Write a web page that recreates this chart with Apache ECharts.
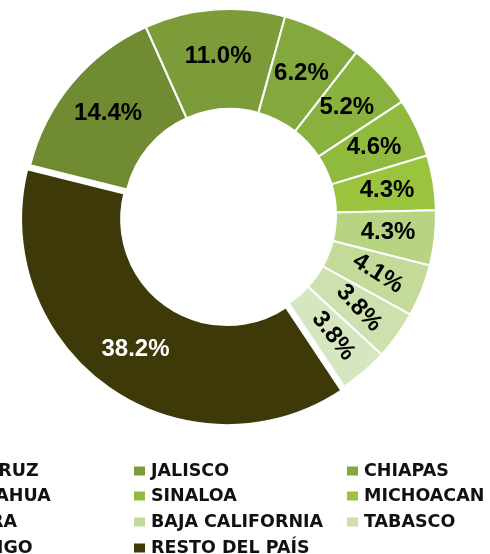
<!DOCTYPE html>
<html><head><meta charset="utf-8">
<script src="https://cdn.jsdelivr.net/npm/echarts@6/dist/echarts.min.js"></script>
<style>html,body{margin:0;padding:0;background:#fff}#c{width:490px;height:554px}</style>
</head><body><div id="c"></div>
<script>
const categories = ['VERACRUZ','JALISCO','CHIAPAS','CHIHUAHUA','SINALOA','MICHOACAN','SONORA','BAJA CALIFORNIA','TABASCO','DURANGO','RESTO DEL PAÍS'];
const values = [14.4, 11.0, 6.2, 5.2, 4.6, 4.3, 4.3, 4.1, 3.8, 3.8, 38.2];
const colors = ['#718b33','#7c9c3a','#83a83c','#89b13d','#90ba3d','#9bc43e','#b7d483','#c3da98','#cde0ad','#d6e6c1','#3d3908'];
const labelRotate = [0,0,0,0,0,0,0,-32,-47,-52,0];
const legendColX = [-86, 132, 345];
const legendRowY = [462, 487, 513, 539];

const chart = echarts.init(document.getElementById('c'), null, {renderer:'canvas'});
const data = categories.map((n,i)=>({
  name:n, value:values[i],
  selected: i===10,
  itemStyle:{color:colors[i]},
  label:{rotate:labelRotate[i], color: i===10?'#ffffff':'#000000'}
}));
const legends = categories.map((n,i)=>({
  data:[n], orient:'horizontal', left: legendColX[i%3], top: legendRowY[Math.floor(i/3)],
  padding:0, itemWidth: 13, itemHeight: 11, icon:'rect', selectedMode:false,
  textStyle:{fontFamily:'DejaVu Sans', fontWeight:'bold', fontSize:17.5, color:'#111', lineHeight:18}
}));
chart.setOption({
  animation:false,
  legend: legends,
  series:[{
    type:'pie',
    center:[230,215],
    radius:[106,206],
    startAngle:166,
    clockwise:true,
    selectedMode:'single',
    selectedOffset:5,
    avoidLabelOverlap:false,
    itemStyle:{borderColor:'#ffffff', borderWidth:2},
    label:{show:true, position:'inside', formatter: p=>p.value.toFixed(1)+'%', fontFamily:'Liberation Sans, Arial', fontWeight:'bold', fontSize:24},
    labelLine:{show:false},
    emphasis:{disabled:true},
    data
  }]
});
</script></body></html>
